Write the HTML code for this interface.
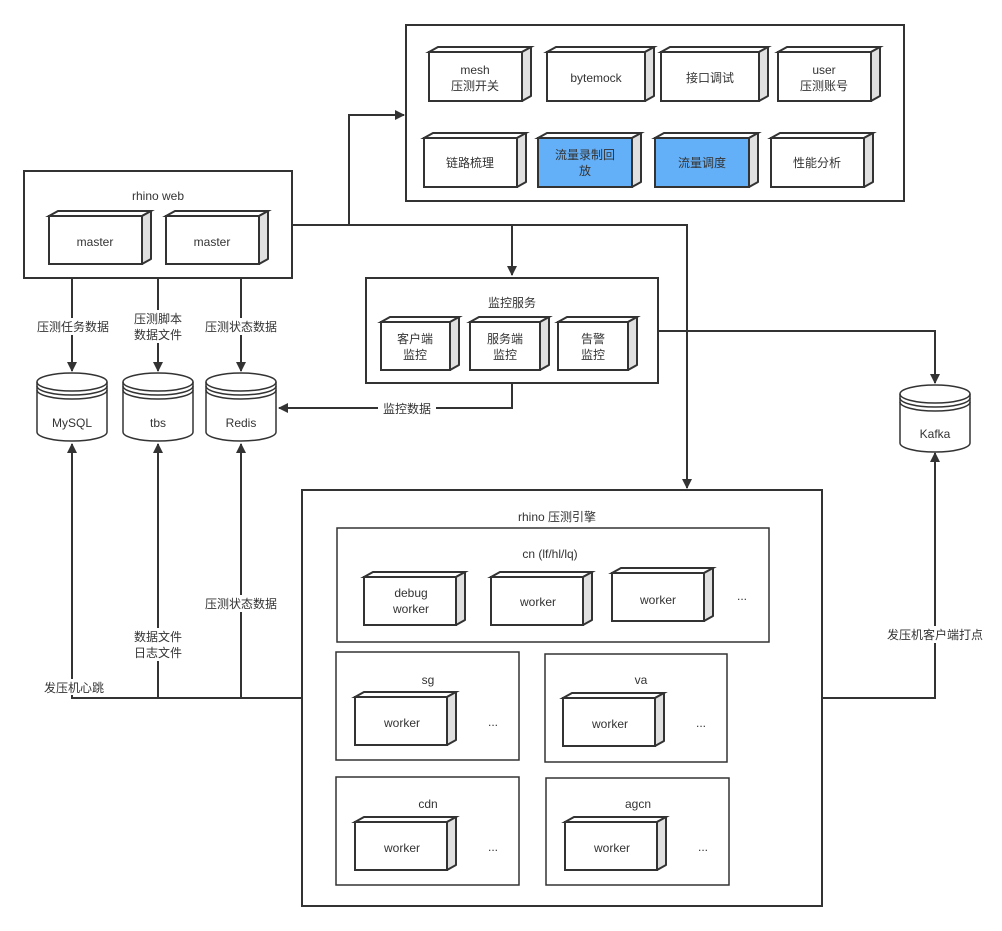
<!DOCTYPE html>
<html><head><meta charset="utf-8"><style>
html,body{margin:0;padding:0;background:#fff;}
svg{display:block;}
text{font-family:"Liberation Sans","Noto Sans CJK SC",sans-serif;font-size:12px;fill:#333;text-anchor:middle;}
.b{fill:#fff;stroke:#333;stroke-width:2;}
.c{fill:#fff;stroke:#333;stroke-width:1.5;}
.s{fill:#e0e0e0;stroke:#333;stroke-width:2;stroke-linejoin:round;}
.l{fill:none;stroke:#333;stroke-width:2;}
.a{fill:#333;}
</style></head><body>
<svg width="1002" height="931" viewBox="0 0 1002 931" xmlns="http://www.w3.org/2000/svg">
<defs>
<marker id="ar" markerWidth="10" markerHeight="10" refX="9" refY="5" orient="auto" markerUnits="userSpaceOnUse"><path d="M0,0 L10,5 L0,10 Z" class="a"/></marker>
</defs>

<!-- connectors -->
<path class="l" d="M292,225 H349 V115 H404" marker-end="url(#ar)"/>
<path class="l" d="M292,225 H687 V488" marker-end="url(#ar)"/>
<path class="l" d="M512,225 V275" marker-end="url(#ar)"/>
<path class="l" d="M658,331 H935 V383" marker-end="url(#ar)"/>
<path class="l" d="M512,383 V408 H279" marker-end="url(#ar)"/>
<path class="l" d="M72,278 V371" marker-end="url(#ar)"/>
<path class="l" d="M158,278 V371" marker-end="url(#ar)"/>
<path class="l" d="M241,278 V371" marker-end="url(#ar)"/>
<path class="l" d="M302,698 H72 V444" marker-end="url(#ar)"/>
<path class="l" d="M158,698 V444" marker-end="url(#ar)"/>
<path class="l" d="M241,698 V444" marker-end="url(#ar)"/>
<path class="l" d="M822,698 H935 V453" marker-end="url(#ar)"/>

<!-- connector labels -->
<g>
<rect x="32" y="318" width="82" height="17" fill="#fff"/><text x="73" y="331">压测任务数据</text>
<rect x="130" y="310" width="56" height="33" fill="#fff"/><text x="158" y="323">压测脚本</text><text x="158" y="339">数据文件</text>
<rect x="200" y="318" width="82" height="17" fill="#fff"/><text x="241" y="331">压测状态数据</text>
<rect x="378" y="400" width="58" height="16" fill="#fff"/><text x="407" y="413">监控数据</text>
<rect x="200" y="595" width="82" height="17" fill="#fff"/><text x="241" y="608">压测状态数据</text>
<rect x="130" y="628" width="56" height="33" fill="#fff"/><text x="158" y="641">数据文件</text><text x="158" y="657">日志文件</text>
<rect x="38" y="679" width="70" height="16" fill="#fff"/><text x="74" y="692">发压机心跳</text>
<rect x="882" y="626" width="106" height="17" fill="#fff"/><text x="935" y="639">发压机客户端打点</text>
</g>

<!-- top box -->
<rect class="b" x="406" y="25" width="498" height="176"/>
<!-- rhino web -->
<rect class="b" x="24" y="171" width="268" height="107"/>
<text x="158" y="200">rhino web</text>
<!-- monitor -->
<rect class="b" x="366" y="278" width="292" height="105"/>
<text x="512" y="307">监控服务</text>
<!-- engine -->
<rect class="b" x="302" y="490" width="520" height="416"/>
<text x="557" y="521">rhino 压测引擎</text>
<rect class="c" x="337" y="528" width="432" height="114"/>
<text x="550" y="558">cn (lf/hl/lq)</text>
<rect class="c" x="336" y="652" width="183" height="108"/>
<text x="428" y="684">sg</text>
<rect class="c" x="545" y="654" width="182" height="108"/>
<text x="641" y="684">va</text>
<rect class="c" x="336" y="777" width="183" height="108"/>
<text x="428" y="808">cdn</text>
<rect class="c" x="546" y="778" width="183" height="107"/>
<text x="638" y="808">agcn</text>
<text x="742" y="600">...</text>
<text x="493" y="726">...</text>
<text x="701" y="727">...</text>
<text x="493" y="851">...</text>
<text x="703" y="851">...</text>

<!-- 3D boxes -->
<g id="boxes">
<!-- template: front x,y,w,h; dx=9 dy=5 -->
<g><polygon class="b" points="429,52 438,47 531,47 522,52"/><polygon class="s" points="522,52 531,47 531,96 522,101"/><rect class="b" x="429" y="52" width="93" height="49"/><text x="475" y="74">mesh</text><text x="475" y="90">压测开关</text></g>
<g><polygon class="b" points="547,52 556,47 654,47 645,52"/><polygon class="s" points="645,52 654,47 654,96 645,101"/><rect class="b" x="547" y="52" width="98" height="49"/><text x="596" y="82">bytemock</text></g>
<g><polygon class="b" points="661,52 670,47 768,47 759,52"/><polygon class="s" points="759,52 768,47 768,96 759,101"/><rect class="b" x="661" y="52" width="98" height="49"/><text x="710" y="82">接口调试</text></g>
<g><polygon class="b" points="778,52 787,47 880,47 871,52"/><polygon class="s" points="871,52 880,47 880,96 871,101"/><rect class="b" x="778" y="52" width="93" height="49"/><text x="824" y="74">user</text><text x="824" y="90">压测账号</text></g>

<g><polygon class="b" points="424,138 433,133 526,133 517,138"/><polygon class="s" points="517,138 526,133 526,182 517,187"/><rect class="b" x="424" y="138" width="93" height="49"/><text x="470" y="167">链路梳理</text></g>
<g><polygon class="b" points="538,138 547,133 641,133 632,138"/><polygon class="s" points="632,138 641,133 641,182 632,187"/><rect class="b" x="538" y="138" width="94" height="49" style="fill:#64b0f8"/><text x="585" y="159">流量录制回</text><text x="585" y="175">放</text></g>
<g><polygon class="b" points="655,138 664,133 758,133 749,138"/><polygon class="s" points="749,138 758,133 758,182 749,187"/><rect class="b" x="655" y="138" width="94" height="49" style="fill:#64b0f8"/><text x="702" y="167">流量调度</text></g>
<g><polygon class="b" points="771,138 780,133 873,133 864,138"/><polygon class="s" points="864,138 873,133 873,182 864,187"/><rect class="b" x="771" y="138" width="93" height="49"/><text x="817" y="167">性能分析</text></g>

<g><polygon class="b" points="49,216 58,211 151,211 142,216"/><polygon class="s" points="142,216 151,211 151,259 142,264"/><rect class="b" x="49" y="216" width="93" height="48"/><text x="95" y="246">master</text></g>
<g><polygon class="b" points="166,216 175,211 268,211 259,216"/><polygon class="s" points="259,216 268,211 268,259 259,264"/><rect class="b" x="166" y="216" width="93" height="48"/><text x="212" y="246">master</text></g>

<g><polygon class="b" points="381,322 390,317 459,317 450,322"/><polygon class="s" points="450,322 459,317 459,365 450,370"/><rect class="b" x="381" y="322" width="69" height="48"/><text x="415" y="343">客户端</text><text x="415" y="359">监控</text></g>
<g><polygon class="b" points="470,322 479,317 549,317 540,322"/><polygon class="s" points="540,322 549,317 549,365 540,370"/><rect class="b" x="470" y="322" width="70" height="48"/><text x="505" y="343">服务端</text><text x="505" y="359">监控</text></g>
<g><polygon class="b" points="558,322 567,317 637,317 628,322"/><polygon class="s" points="628,322 637,317 637,365 628,370"/><rect class="b" x="558" y="322" width="70" height="48"/><text x="593" y="343">告警</text><text x="593" y="359">监控</text></g>

<g><polygon class="b" points="364,577 373,572 465,572 456,577"/><polygon class="s" points="456,577 465,572 465,620 456,625"/><rect class="b" x="364" y="577" width="92" height="48"/><text x="411" y="597">debug</text><text x="411" y="613">worker</text></g>
<g><polygon class="b" points="491,577 500,572 592,572 583,577"/><polygon class="s" points="583,577 592,572 592,620 583,625"/><rect class="b" x="491" y="577" width="92" height="48"/><text x="538" y="606">worker</text></g>
<g><polygon class="b" points="612,573 621,568 713,568 704,573"/><polygon class="s" points="704,573 713,568 713,616 704,621"/><rect class="b" x="612" y="573" width="92" height="48"/><text x="658" y="604">worker</text></g>

<g><polygon class="b" points="355,697 364,692 456,692 447,697"/><polygon class="s" points="447,697 456,692 456,740 447,745"/><rect class="b" x="355" y="697" width="92" height="48"/><text x="402" y="727">worker</text></g>
<g><polygon class="b" points="563,698 572,693 664,693 655,698"/><polygon class="s" points="655,698 664,693 664,741 655,746"/><rect class="b" x="563" y="698" width="92" height="48"/><text x="610" y="728">worker</text></g>
<g><polygon class="b" points="355,822 364,817 456,817 447,822"/><polygon class="s" points="447,822 456,817 456,865 447,870"/><rect class="b" x="355" y="822" width="92" height="48"/><text x="402" y="852">worker</text></g>
<g><polygon class="b" points="565,822 574,817 666,817 657,822"/><polygon class="s" points="657,822 666,817 666,865 657,870"/><rect class="b" x="565" y="822" width="92" height="48"/><text x="612" y="852">worker</text></g>
</g>

<!-- cylinders -->
<g>
<path class="c" d="M37,382 A35,9 0 0 1 107,382 V432 A35,9 0 0 1 37,432 Z"/>
<path class="l" style="stroke-width:1.5" d="M37,382 A35,9 0 0 0 107,382 M37,386 A35,9 0 0 0 107,386 M37,390 A35,9 0 0 0 107,390"/>
<text x="72" y="427">MySQL</text>
<path class="c" d="M123,382 A35,9 0 0 1 193,382 V432 A35,9 0 0 1 123,432 Z"/>
<path class="l" style="stroke-width:1.5" d="M123,382 A35,9 0 0 0 193,382 M123,386 A35,9 0 0 0 193,386 M123,390 A35,9 0 0 0 193,390"/>
<text x="158" y="427">tbs</text>
<path class="c" d="M206,382 A35,9 0 0 1 276,382 V432 A35,9 0 0 1 206,432 Z"/>
<path class="l" style="stroke-width:1.5" d="M206,382 A35,9 0 0 0 276,382 M206,386 A35,9 0 0 0 276,386 M206,390 A35,9 0 0 0 276,390"/>
<text x="241" y="427">Redis</text>
<path class="c" d="M900,394 A35,9 0 0 1 970,394 V443 A35,9 0 0 1 900,443 Z"/>
<path class="l" style="stroke-width:1.5" d="M900,394 A35,9 0 0 0 970,394 M900,398 A35,9 0 0 0 970,398 M900,402 A35,9 0 0 0 970,402"/>
<text x="935" y="438">Kafka</text>
</g>
</svg>
</body></html>
